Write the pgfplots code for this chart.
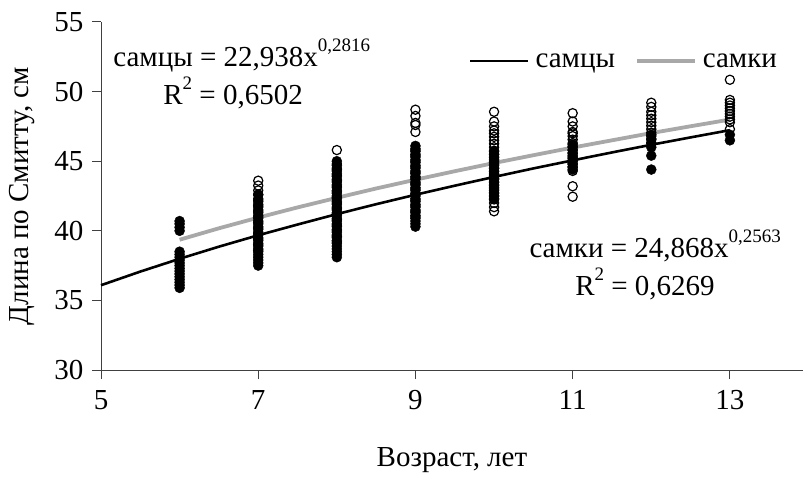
\documentclass[border=0pt]{standalone}
\usepackage{fontspec}
\setmainfont{Liberation Serif}
\usepackage{pgfplots}
\pgfplotsset{compat=1.18}
\definecolor{fgrey}{RGB}{168,168,168}
\newcommand{\fs}{\fontsize{29}{34}\selectfont}
\newcommand{\supr}[1]{\raisebox{15pt}{\fontsize{19}{19}\selectfont #1}}
\begin{document}
\begin{tikzpicture}
\useasboundingbox (0,0) rectangle (803pt,477pt);
\begin{axis}[
  at={(101pt,107pt)}, anchor=south west,
  scale only axis, width=702pt, height=348pt,
  xmin=5, xmax=13.93, ymin=30, ymax=55,
  axis x line*=bottom, axis y line*=left,
  axis line style={black!75, line width=1pt},
  xtick={5,7,9,11,13}, ytick={30,35,40,45,50,55},
  tick align=outside, major tick length=9pt,
  tick style={black!75, line width=1pt},
  /pgf/number format/assume math mode=true,
  ticklabel style={font=\fs},
  xticklabel style={yshift=-8pt},
  yticklabel style={xshift=-5pt},
  xlabel={Возраст, лет}, ylabel={Длина по Смитту, см},
  label style={font=\fs},
  xlabel style={at={(axis description cs:0.5,-0.258)}, anchor=center},
  ylabel style={at={(axis description cs:-0.112,0.5)}, anchor=center, rotate=0},
  clip=false,
  legend columns=2,
  legend style={draw=none, fill=none, font=\fs, inner sep=0pt,
    nodes={inner sep=0pt},
    at={(axis cs:13.6,52.2)}, anchor=east,
    /tikz/every odd column/.append style={column sep=6pt},
    /tikz/every even column/.append style={column sep=20pt}},
  legend image code/.code={\draw[#1] (0pt,0pt) -- (58pt,0pt);},
]
% males (filled)
\addplot[only marks, mark=*, mark size=5pt, mark options={fill=black, draw=black}, forget plot] coordinates {
(6,35.9)(6,36.1)(6,36.3)(6,36.5)(6,36.7)(6,36.9)(6,37.1)(6,37.3)(6,37.5)(6,37.7)(6,37.9)(6,38.1)(6,38.3)(6,38.5)
(6,40.0)(6,40.25)(6,40.5)(6,40.7)
(7,37.5)(7,37.7)(7,37.9)(7,38.1)(7,38.3)(7,38.5)(7,38.7)(7,38.9)(7,39.1)(7,39.3)(7,39.5)(7,39.7)(7,39.9)(7,40.1)(7,40.3)(7,40.5)(7,40.7)(7,40.9)(7,41.1)(7,41.3)(7,41.5)(7,41.7)(7,41.9)(7,42.1)(7,42.3)(7,42.6)
(8,38.1)(8,38.3)(8,38.5)(8,38.7)(8,38.9)(8,39.1)(8,39.3)(8,39.5)(8,39.7)(8,39.9)(8,40.1)(8,40.3)(8,40.5)(8,40.7)(8,40.9)(8,41.1)(8,41.3)(8,41.5)(8,41.7)(8,41.9)(8,42.1)(8,42.3)(8,42.5)(8,42.7)(8,42.9)(8,43.1)(8,43.3)(8,43.5)(8,43.7)(8,43.9)(8,44.1)(8,44.3)(8,44.5)(8,44.7)(8,45.0)
(9,40.3)(9,40.5)(9,40.7)(9,40.9)(9,41.1)(9,41.3)(9,41.5)(9,41.7)(9,41.9)(9,42.1)(9,42.3)(9,42.5)(9,42.7)(9,42.9)(9,43.1)(9,43.3)(9,43.5)(9,43.7)(9,43.9)(9,44.1)(9,44.3)(9,44.5)(9,44.7)(9,44.9)(9,45.1)(9,45.3)(9,45.5)(9,45.7)(9,45.9)(9,46.1)
(10,42.3)(10,42.5)(10,42.7)(10,42.9)(10,43.1)(10,43.3)(10,43.5)(10,43.7)(10,43.9)(10,44.1)(10,44.3)(10,44.5)(10,44.7)(10,44.9)(10,45.1)(10,45.3)(10,45.5)(10,45.7)
(11,44.4)(11,44.6)(11,44.8)(11,45.0)(11,45.2)(11,45.4)(11,45.6)(11,45.8)(11,46.0)(11,46.2)
(12,44.4)(12,45.4)(12,46.0)(12,46.3)(12,46.6)(12,46.9)
(13,46.5)(13,46.9)
};
% females (open)
\addplot[only marks, mark=o, mark size=4.6pt, mark options={draw=black, line width=1.2pt}, forget plot] coordinates {
(7,38.6)(7,39.0)(7,39.4)(7,39.8)(7,40.2)(7,40.6)(7,41.0)(7,41.4)(7,41.8)(7,42.2)(7,42.6)(7,42.9)(7,43.25)(7,43.6)
(8,39.2)(8,39.6)(8,40.0)(8,40.4)(8,40.8)(8,41.2)(8,41.6)(8,42.0)(8,42.4)(8,42.8)(8,43.2)(8,43.6)(8,44.0)(8,44.4)(8,44.8)(8,45.8)
(9,41.0)(9,41.4)(9,41.8)(9,42.2)(9,42.6)(9,43.0)(9,43.4)(9,43.8)(9,44.2)(9,44.6)(9,45.0)(9,45.4)(9,45.8)(9,47.1)(9,47.6)(9,47.75)(9,48.25)(9,48.7)
(10,41.4)(10,41.7)(10,42.0)(10,42.25)(10,42.5)(10,42.75)(10,43.0)(10,43.25)(10,43.5)(10,43.75)(10,44.0)(10,44.25)(10,44.5)(10,44.75)(10,45.0)(10,45.25)(10,45.5)(10,45.75)(10,46.0)(10,46.25)(10,46.5)(10,46.75)(10,47.0)(10,47.2)(10,47.5)(10,47.85)(10,48.55)
(11,42.45)(11,43.2)(11,44.3)(11,44.55)(11,44.8)(11,45.05)(11,45.3)(11,45.55)(11,45.8)(11,46.05)(11,46.3)(11,46.55)(11,46.8)(11,47.0)(11,47.1)(11,47.5)(11,47.85)(11,48.45)
(12,46.3)(12,46.55)(12,46.8)(12,47.05)(12,47.3)(12,47.55)(12,47.8)(12,48.05)(12,48.3)(12,48.55)(12,48.9)(12,49.2)
(13,47.3)(13,47.8)(13,48.0)(13,48.2)(13,48.4)(13,48.6)(13,48.8)(13,49.0)(13,49.2)(13,49.4)(13,50.85)
};
% trend lines
\addplot[black, line width=2.6pt] coordinates {
(5,36.09)(5.5,37.07)(6,37.99)(6.5,38.86)(7,39.68)(7.5,40.45)(8,41.20)(8.5,41.91)(9,42.59)(9.5,43.24)(10,43.87)(10.5,44.48)(11,45.06)(11.5,45.63)(12,46.18)(12.5,46.71)(13,47.23)
};
\addlegendentry{самцы}
\addplot[fgrey, line width=3.8pt] coordinates {
(6,39.36)(6.5,40.18)(7,40.95)(7.5,41.68)(8,42.37)(8.5,43.04)(9,43.67)(9.5,44.28)(10,44.87)(10.5,45.43)(11,45.98)(11.5,46.50)(12,47.02)(12.5,47.51)(13,47.99)
};
\addlegendentry{самки}
% equations
\node[font=\fs, anchor=base] at (axis cs:6.79,51.79) {самцы = 22,938x\supr{0,2816}};
\node[font=\fs, anchor=base] at (axis cs:6.68,49.04) {R\supr{2} = 0,6502};
\node[font=\fs, anchor=base] at (axis cs:12.05,38.05) {самки = 24,868x\supr{0,2563}};
\node[font=\fs, anchor=base] at (axis cs:11.92,35.32) {R\supr{2} = 0,6269};
\end{axis}
\end{tikzpicture}
\end{document}
